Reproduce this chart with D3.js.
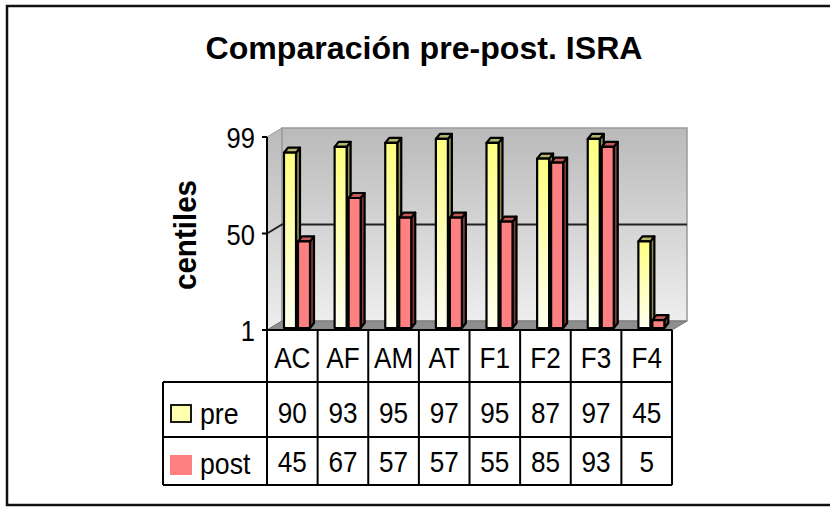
<!DOCTYPE html>
<html>
<head>
<meta charset="utf-8">
<script src="https://cdn.jsdelivr.net/npm/d3@7"></script>
<style>
html,body{margin:0;padding:0;background:#fff;}
svg{display:block;}
text{font-family:"Liberation Sans",Arial,sans-serif;fill:#000;}
</style>
</head>
<body>
<svg id="chart" width="830" height="508"></svg>
<script>
const categories = ["AC","AF","AM","AT","F1","F2","F3","F4"];
const seriesNames = ["pre","post"];
const preValues  = [90,93,95,97,95,87,97,45];
const postValues = [45,67,57,57,55,85,93,5];
const yTicks = [1,50,99];
const titleText = "Comparación pre-post. ISRA";
const yTitle = "centiles";

const svg = d3.select("#chart");
const defs = svg.append("defs");

function vgrad(id, c1, c2){
  const g = defs.append("linearGradient").attr("id",id)
    .attr("x1",0).attr("y1",0).attr("x2",0).attr("y2",1);
  g.append("stop").attr("offset","0%").attr("stop-color",c1);
  g.append("stop").attr("offset","100%").attr("stop-color",c2);
}
vgrad("wallG","#bababa","#eeeeee");
vgrad("preG","#ffff80","#fffff0");

// narrow text helper: taller glyphs squeezed horizontally
function narrow(sel, f){
  sel.each(function(){
    const w = this.getComputedTextLength();
    d3.select(this).attr("textLength", w*f).attr("lengthAdjust","spacingAndGlyphs");
  });
  return sel;
}

// frame
svg.append("rect").attr("x",7).attr("y",6).attr("width",900).attr("height",499)
  .attr("fill","none").attr("stroke","#111").attr("stroke-width",2.5);

// title
svg.append("text").attr("x",424).attr("y",59).attr("text-anchor","middle")
  .attr("font-size",31).attr("font-weight","bold")
  .attr("textLength",437).attr("lengthAdjust","spacingAndGlyphs")
  .text(titleText);

// scales
const x0 = 267, x1 = 672;
const x = d3.scaleBand().domain(categories).range([x0,x1]).padding(0);
const xs = d3.scaleBand().domain(seriesNames).range([17,45]).padding(0);
const y = d3.scaleLinear().domain([1,99]).range([330,137]);
const yb = d3.scaleLinear().domain([1,99]).range([328,135]);
const dx = 15, dy = -9;   // wall depth
const bdx = 4, bdy = -5;  // bar depth

const yTop = y(99), yBot = y(1);

// left wall
svg.append("path")
  .attr("d",`M${x0},${yBot} L${x0},${yTop} L${x0+dx},${yTop+dy} L${x0+dx},${yBot+dy} Z`)
  .attr("fill","url(#wallG)").attr("stroke","#9a9a9a").attr("stroke-width",1);
// back wall
svg.append("rect").attr("x",x0+dx).attr("y",yTop+dy).attr("width",x1-x0).attr("height",yBot-yTop)
  .attr("fill","url(#wallG)").attr("stroke","#9a9a9a").attr("stroke-width",1.5);
// floor
svg.append("path")
  .attr("d",`M${x0},${yBot} L${x0+dx},${yBot+dy} L${x1+dx},${yBot+dy} L${x1},${yBot} Z`)
  .attr("fill","#8e8e8e").attr("stroke","#777").attr("stroke-width",1);

// gridlines (inner ticks only)
yTicks.filter(t => t!==1 && t!==99).forEach(t=>{
  svg.append("path")
    .attr("d",`M${x0},${y(t)} L${x0+dx},${y(t)+dy} L${x1+dx},${y(t)+dy}`)
    .attr("fill","none").attr("stroke","#222").attr("stroke-width",2);
});

// bars
const seriesData = {pre:preValues, post:postValues};
const styles = {
  pre:{front:"url(#preG)", side:"#8a8a55", top:"#b5b56c"},
  post:{front:"#ff8080", side:"#7f3c3c", top:"#c45a5a"}
};
categories.forEach((c,i)=>{
  seriesNames.forEach(s=>{
    const v = seriesData[s][i];
    const bx = x(c) + xs(s);
    const bw = xs.bandwidth() - 2;
    const yt = yb(v), ybase = yb(1);
    const g = svg.append("g").attr("stroke","#000").attr("stroke-width",2.2).attr("stroke-linejoin","round");
    g.append("path")
      .attr("d",`M${bx+bw},${ybase} L${bx+bw},${yt} L${bx+bw+bdx},${yt+bdy} L${bx+bw+bdx},${ybase+bdy} Z`)
      .attr("fill",styles[s].side);
    g.append("path")
      .attr("d",`M${bx},${yt} L${bx+bdx},${yt+bdy} L${bx+bw+bdx},${yt+bdy} L${bx+bw},${yt} Z`)
      .attr("fill",styles[s].top);
    g.append("rect").attr("x",bx).attr("y",yt).attr("width",bw).attr("height",ybase-yt)
      .attr("fill",styles[s].front);
  });
});

// y axis
const axisG = svg.append("g").attr("stroke","#000").attr("stroke-width",2);
axisG.append("line").attr("x1",x0).attr("x2",x0).attr("y1",yTop).attr("y2",yBot);
yTicks.forEach(t=>{
  axisG.append("line").attr("x1",x0-5).attr("x2",x0).attr("y1",y(t)).attr("y2",y(t));
  narrow(svg.append("text").attr("x",255).attr("y",y(t)+11).attr("text-anchor","end")
    .attr("font-size",29).text(t), 0.88);
});

// y title
svg.append("text").attr("transform","translate(196,235) rotate(-90)")
  .attr("text-anchor","middle").attr("font-size",31).attr("font-weight","bold")
  .attr("textLength",110).attr("lengthAdjust","spacingAndGlyphs")
  .text(yTitle);

// data table
const tHeadTop = yBot, rowTop = 382, rowMid = 437, rowBot = 485, legX = 163;
const tg = svg.append("g").attr("stroke","#000").attr("stroke-width",2).attr("fill","none");
tg.append("line").attr("x1",x0-5).attr("x2",x1).attr("y1",tHeadTop).attr("y2",tHeadTop);
tg.append("line").attr("x1",legX).attr("x2",x1).attr("y1",rowTop).attr("y2",rowTop);
tg.append("line").attr("x1",legX).attr("x2",x1).attr("y1",rowMid).attr("y2",rowMid);
tg.append("line").attr("x1",legX).attr("x2",x1).attr("y1",rowBot).attr("y2",rowBot);
tg.append("line").attr("x1",legX).attr("x2",legX).attr("y1",rowTop).attr("y2",rowBot);
categories.forEach(c=>{
  tg.append("line").attr("x1",x(c)).attr("x2",x(c)).attr("y1",tHeadTop).attr("y2",rowBot);
});
tg.append("line").attr("x1",x1).attr("x2",x1).attr("y1",tHeadTop).attr("y2",rowBot);

categories.forEach((c,i)=>{
  const cx = x(c) + x.bandwidth()/2;
  narrow(svg.append("text").attr("x",cx).attr("y",368).attr("text-anchor","middle").attr("font-size",29).text(c), 0.9);
  narrow(svg.append("text").attr("x",cx).attr("y",423).attr("text-anchor","middle").attr("font-size",29).text(preValues[i]), 0.9);
  narrow(svg.append("text").attr("x",cx).attr("y",472).attr("text-anchor","middle").attr("font-size",29).text(postValues[i]), 0.9);
});

// legend keys
svg.append("rect").attr("x",171).attr("y",405).attr("width",20).attr("height",17)
  .attr("fill","#ffffb0").attr("stroke","#000").attr("stroke-width",1.8);
svg.append("rect").attr("x",170).attr("y",455).attr("width",22).attr("height",20)
  .attr("fill","#ff8080");
narrow(svg.append("text").attr("x",200).attr("y",424).attr("font-size",29).text(seriesNames[0]), 0.92);
narrow(svg.append("text").attr("x",200).attr("y",474).attr("font-size",29).text(seriesNames[1]), 0.92);
</script>
</body>
</html>
